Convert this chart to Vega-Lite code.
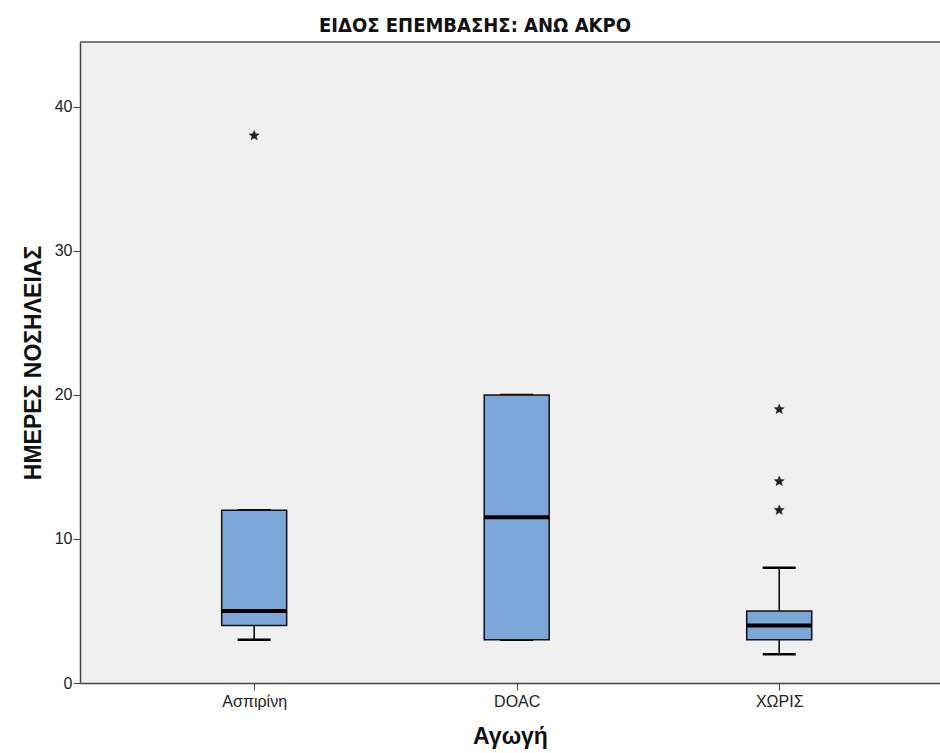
{
  "$schema": "https://vega.github.io/schema/vega-lite/v6.json",
  "autosize": "none",
  "width": 860,
  "height": 641,
  "padding": {"left": 80, "top": 42, "right": 0, "bottom": 70},
  "background": "white",
  "title": {
    "text": "ΕΙΔΟΣ ΕΠΕΜΒΑΣΗΣ: ΑΝΩ ΑΚΡΟ",
    "font": "Liberation Sans Narrow, DejaVu Sans Condensed, sans-serif",
    "fontSize": 20,
    "fontWeight": "bold",
    "color": "#111",
    "anchor": "middle",
    "dx": -35,
    "offset": 5
  },
  "config": {
    "view": {"fill": "#F0F0F0", "stroke": null},
    "axis": {
      "labelFont": "Liberation Sans, Arial, sans-serif",
      "titleFont": "Liberation Sans, Arial, sans-serif",
      "labelColor": "#222",
      "titleColor": "#111",
      "domainColor": "#444",
      "tickColor": "#444",
      "grid": false
    }
  },
  "datasets": {
    "summary": [
      {"group": "Ασπιρίνη", "min": 3, "q1": 4, "median": 5, "q3": 12, "max": 12},
      {"group": "DOAC", "min": 3, "q1": 3, "median": 11.5, "q3": 20, "max": 20},
      {"group": "ΧΩΡΙΣ", "min": 2, "q1": 3, "median": 4, "q3": 5, "max": 8}
    ],
    "outliers": [
      {"group": "Ασπιρίνη", "value": 38},
      {"group": "ΧΩΡΙΣ", "value": 19},
      {"group": "ΧΩΡΙΣ", "value": 14},
      {"group": "ΧΩΡΙΣ", "value": 12}
    ],
    "frame": [
      {"top": 44.5}
    ]
  },
  "layer": [
    {
      "data": {"name": "summary"},
      "mark": {"type": "rule", "color": "black", "strokeWidth": 1.5},
      "encoding": {
        "x": {
          "field": "group",
          "type": "nominal",
          "sort": ["Ασπιρίνη", "DOAC", "ΧΩΡΙΣ"],
          "scale": {"type": "point", "padding": 0.638, "align": 0.52},
          "axis": {
            "title": "Αγωγή",
            "titleFontSize": 23,
            "titleFontWeight": "bold",
            "titlePadding": 16,
            "labelAngle": 0,
            "labelFontSize": 16,
            "labelPadding": 3,
            "tickSize": 7,
            "domainWidth": 1.5
          }
        },
        "y": {
          "field": "min",
          "type": "quantitative",
          "scale": {"domain": [0, 44.5], "nice": false, "zero": true},
          "axis": {
            "title": "ΗΜΕΡΕΣ ΝΟΣΗΛΕΙΑΣ",
            "titleFontSize": 23,
            "titleFontWeight": "bold",
            "titlePadding": 9,
            "values": [0, 10, 20, 30, 40],
            "labelFontSize": 16,
            "labelPadding": 1,
            "tickSize": 7,
            "domainWidth": 1.5
          }
        },
        "y2": {"field": "q1"}
      }
    },
    {
      "data": {"name": "frame"},
      "mark": {"type": "rule", "color": "#555", "strokeWidth": 1.5},
      "encoding": {"y": {"field": "top", "type": "quantitative"}}
    },
    {
      "data": {"name": "summary"},
      "mark": {"type": "rule", "color": "black", "strokeWidth": 1.5},
      "encoding": {
        "x": {"field": "group", "type": "nominal", "sort": ["Ασπιρίνη", "DOAC", "ΧΩΡΙΣ"]},
        "y": {"field": "q3", "type": "quantitative"},
        "y2": {"field": "max"}
      }
    },
    {
      "data": {"name": "summary"},
      "mark": {"type": "tick", "color": "black", "size": 33, "thickness": 2.5, "opacity": 1},
      "encoding": {
        "x": {"field": "group", "type": "nominal", "sort": ["Ασπιρίνη", "DOAC", "ΧΩΡΙΣ"]},
        "y": {"field": "min", "type": "quantitative"}
      }
    },
    {
      "data": {"name": "summary"},
      "mark": {"type": "tick", "color": "black", "size": 33, "thickness": 2.5, "opacity": 1},
      "encoding": {
        "x": {"field": "group", "type": "nominal", "sort": ["Ασπιρίνη", "DOAC", "ΧΩΡΙΣ"]},
        "y": {"field": "max", "type": "quantitative"}
      }
    },
    {
      "data": {"name": "summary"},
      "mark": {"type": "bar", "size": 65, "fill": "#7BA7D9", "stroke": "#111", "strokeWidth": 1.5},
      "encoding": {
        "x": {"field": "group", "type": "nominal", "sort": ["Ασπιρίνη", "DOAC", "ΧΩΡΙΣ"]},
        "y": {"field": "q1", "type": "quantitative"},
        "y2": {"field": "q3"}
      }
    },
    {
      "data": {"name": "summary"},
      "mark": {"type": "tick", "color": "black", "size": 65, "thickness": 4, "opacity": 1},
      "encoding": {
        "x": {"field": "group", "type": "nominal", "sort": ["Ασπιρίνη", "DOAC", "ΧΩΡΙΣ"]},
        "y": {"field": "median", "type": "quantitative"}
      }
    },
    {
      "data": {"name": "outliers"},
      "mark": {
        "type": "point",
        "shape": "M0,-1L0.265,-0.364L0.951,-0.309L0.428,0.139L0.588,0.809L0,0.45L-0.588,0.809L-0.428,0.139L-0.951,-0.309L-0.265,-0.364Z",
        "size": 110,
        "fill": "#222",
        "stroke": "#222",
        "strokeWidth": 0.5,
        "filled": true,
        "opacity": 1
      },
      "encoding": {
        "x": {"field": "group", "type": "nominal", "sort": ["Ασπιρίνη", "DOAC", "ΧΩΡΙΣ"]},
        "y": {"field": "value", "type": "quantitative"}
      }
    }
  ]
}
